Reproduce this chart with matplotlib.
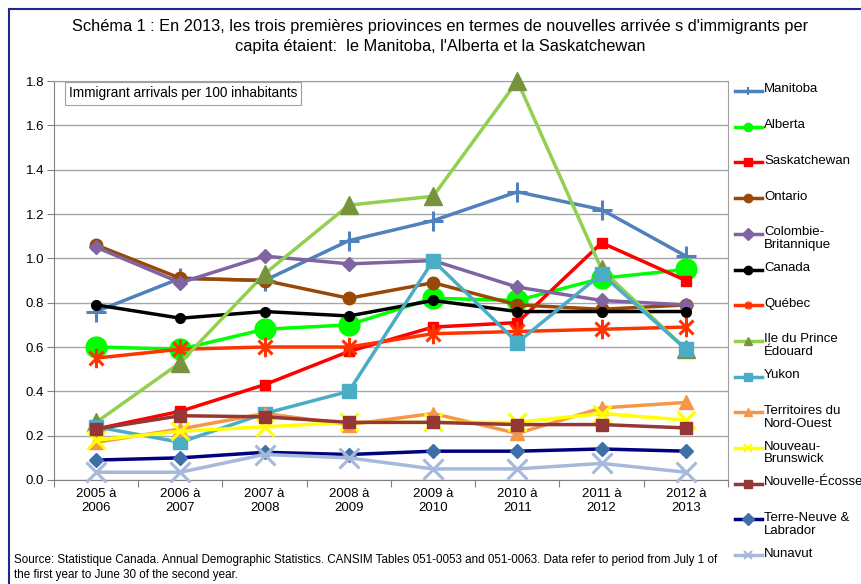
import matplotlib
matplotlib.use('Agg')
import matplotlib.pyplot as plt
from matplotlib.lines import Line2D
from matplotlib.patches import Rectangle
from matplotlib.path import Path

plt.rcParams['font.family'] = ['Liberation Sans', 'DejaVu Sans']

# Données : arrivées d'immigrants pour 100 habitants
periodes = ['2005 à\n2006', '2006 à\n2007', '2007 à\n2008', '2008 à\n2009',
            '2009 à\n2010', '2010 à\n2011', '2011 à\n2012', '2012 à\n2013']

noms = ['Manitoba', 'Alberta', 'Saskatchewan', 'Ontario',
        'Colombie-\nBritannique', 'Canada', 'Québec', 'Ile du Prince\nÉdouard',
        'Yukon', 'Territoires du\nNord-Ouest', 'Nouveau-\nBrunswick',
        'Nouvelle-Écosse', 'Terre-Neuve &\nLabrador', 'Nunavut']

manitoba = [0.76, 0.91, 0.90, 1.08, 1.17, 1.30, 1.22, 1.01]
alberta = [0.60, 0.59, 0.68, 0.70, 0.82, 0.81, 0.91, 0.95]
saskatchewan = [0.23, 0.31, 0.43, 0.58, 0.69, 0.71, 1.07, 0.90]
ontario = [1.06, 0.91, 0.90, 0.82, 0.89, 0.79, 0.77, 0.79]
colombie = [1.05, 0.89, 1.01, 0.975, 0.99, 0.87, 0.81, 0.79]
canada = [0.79, 0.73, 0.76, 0.74, 0.81, 0.76, 0.76, 0.76]
quebec = [0.55, 0.59, 0.60, 0.60, 0.66, 0.67, 0.68, 0.69]
ipe = [0.26, 0.53, 0.93, 1.24, 1.28, 1.80, 0.95, 0.59]
yukon = [0.24, 0.17, 0.30, 0.40, 0.99, 0.62, 0.93, 0.59]
tno = [0.17, 0.23, 0.30, 0.25, 0.30, 0.21, 0.325, 0.35]
nouveau_brunswick = [0.18, 0.22, 0.24, 0.26, 0.26, 0.26, 0.30, 0.27]
nouvelle_ecosse = [0.23, 0.29, 0.285, 0.26, 0.26, 0.25, 0.25, 0.235]
terre_neuve = [0.09, 0.10, 0.125, 0.115, 0.13, 0.13, 0.14, 0.13]
nunavut = [0.035, 0.035, 0.115, 0.10, 0.05, 0.05, 0.075, 0.035]

series = [manitoba, alberta, saskatchewan, ontario, colombie, canada, quebec,
          ipe, yukon, tno, nouveau_brunswick, nouvelle_ecosse, terre_neuve, nunavut]

# astérisque façon Excel (X + barre verticale)
etoile = Path([(0, -1), (0, 1), (-0.72, -0.72), (0.72, 0.72), (-0.72, 0.72), (0.72, -0.72)],
              [Path.MOVETO, Path.LINETO, Path.MOVETO, Path.LINETO, Path.MOVETO, Path.LINETO])

# style : couleur ligne, marqueur, couleur marqueur, taille, épaisseur
styles = [
    ('#4F81BD', '+', '#4F81BD', 15, 2.5),
    ('#00FF00', 'o', '#00FF00', 15, 2.5),
    ('#FF0000', 's', '#FF0000', 7.5, 2.5),
    ('#984807', 'o', '#984807', 9, 2.5),
    ('#8064A2', 'D', '#8064A2', 7.5, 2.5),
    ('#000000', 'o', '#000000', 7, 2.5),
    ('#FF3300', etoile, '#FF3300', 14, 2.5),
    ('#92D050', '^', '#77933C', 13, 2.5),
    ('#4BACC6', 's', '#4BACC6', 10, 2.5),
    ('#F79646', '^', '#F79646', 10, 2.5),
    ('#FFFF00', 'x', '#FFFF00', 13, 2.5),
    ('#953735', 's', '#953735', 8, 2.5),
    ('#000080', 'D', '#3F6FA8', 7.5, 2.5),
    ('#A6B9DB', 'x', '#A6B9DB', 15, 2.5),
]

W, H = 862, 584
fig = plt.figure(figsize=(W / 100, H / 100), dpi=100)


def fx(px):
    return px / W


def fy(py):
    return 1 - py / H


ax = fig.add_axes([fx(54), fy(480), fx(728) - fx(54), fy(81) - fy(480)])

x = list(range(len(periodes)))
for i, (vals, st) in enumerate(zip(series, styles)):
    lc, mk, mc, ms, lw = st
    ax.plot(x, vals, color=lc, linewidth=lw, marker=mk, markersize=ms,
            markerfacecolor=mc, markeredgecolor=mc,
            markeredgewidth=2.2 if mk in ('+', 'x') or mk is etoile else 1,
            zorder=3 + i, clip_on=False)

ax.set_xlim(-0.5, 7.5)
ax.set_ylim(0, 1.8)
ax.set_yticks([0, 0.2, 0.4, 0.6, 0.8, 1.0, 1.2, 1.4, 1.6, 1.8])
ax.set_yticklabels(['%.1f' % v for v in ax.get_yticks()], fontsize=9.5)
ax.set_xticks([v - 0.5 for v in range(9)])
ax.set_xticklabels([])
ax.set_xticks(x, minor=True)
ax.set_xticklabels(periodes, minor=True, fontsize=9.5)
ax.tick_params(axis='x', which='minor', length=0, pad=6)
ax.tick_params(axis='x', which='major', length=5, color='#808080', direction='out')
ax.tick_params(axis='y', length=5, color='#808080', direction='out', pad=2)
ax.grid(axis='y', color='#A6A6A6', linewidth=1)
ax.set_axisbelow(True)
for s in ['left', 'bottom']:
    ax.spines[s].set_color('#808080')
for s in ['top', 'right']:
    ax.spines[s].set_color('#A0A0A0')

ax.text(fx(69), fy(93.5), 'Immigrant arrivals per 100 inhabitants', fontsize=9.8,
        transform=fig.transFigure, va='center', ha='left', zorder=30,
        bbox=dict(boxstyle='square,pad=0.3', facecolor='white', edgecolor='#A0A0A0', linewidth=0.8))

# titre
fig.text(fx(440), fy(27), "Schéma 1 : En 2013, les trois premières priovinces en termes de nouvelles arrivée s d'immigrants per",
         ha='center', va='center', fontsize=11.8)
fig.text(fx(440), fy(46), "capita étaient:  le Manitoba, l'Alberta et la Saskatchewan",
         ha='center', va='center', fontsize=11.8)

# source
fig.text(fx(14), fy(560), 'Source: Statistique Canada. Annual Demographic Statistics. CANSIM Tables 051-0053 and 051-0063. '
         'Data refer to period from July 1 of', ha='left', va='center', fontsize=8.35)
fig.text(fx(14), fy(575), 'the first year to June 30 of the second year.', ha='left', va='center', fontsize=8.35)

# légende manuelle
for i, (nom, st) in enumerate(zip(noms, styles)):
    lc, mk, mc, ms, lw = st
    yy = fy(91 + i * 35.7)
    fig.add_artist(Line2D([fx(735), fx(762)], [yy, yy], color=lc, linewidth=lw,
                          transform=fig.transFigure))
    fig.add_artist(Line2D([fx(748.5)], [yy], marker=mk, markersize=6, color=mc,
                          markeredgewidth=1.5 if mk in ('+', 'x') or mk is etoile else 1,
                          transform=fig.transFigure))
    fig.text(fx(764), yy + 7.5 / H, nom, ha='left', va='top', fontsize=9.5, linespacing=1.1)

# cadre bleu de la figure
fig.add_artist(Rectangle((fx(9), fy(H + 20)), 1.2, fy(9) - fy(H + 20), fill=False,
                         edgecolor='#24248F', linewidth=1.5, transform=fig.transFigure))

fig.savefig('out.png', dpi=100)
